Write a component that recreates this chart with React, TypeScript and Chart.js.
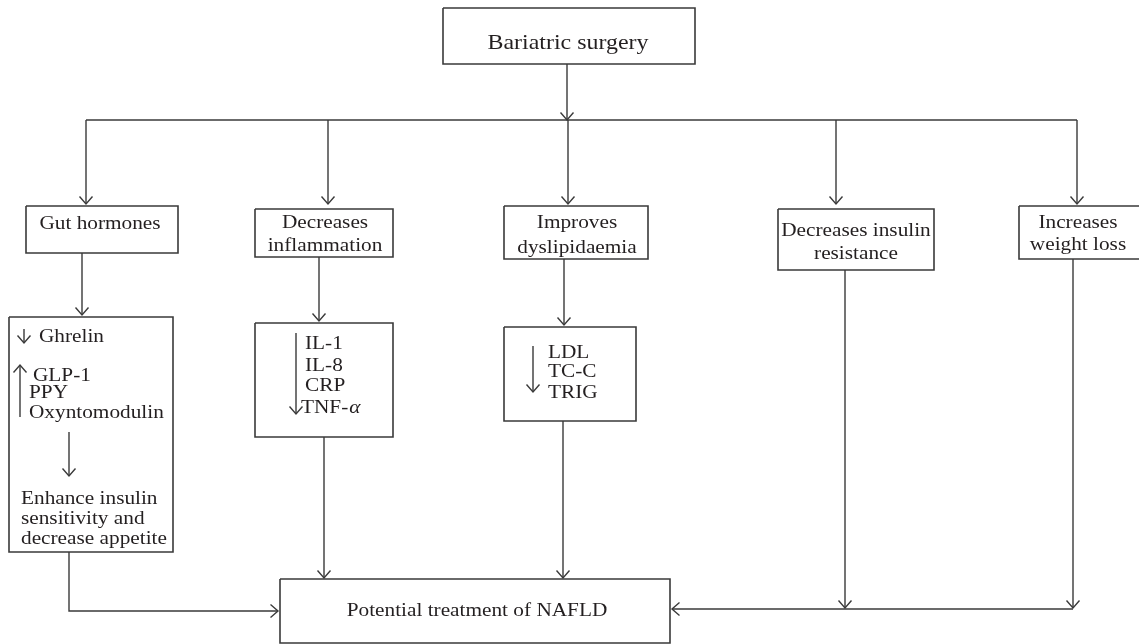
import React, { useEffect, useRef } from "react";
import { Chart, registerables } from "chart.js";

Chart.register(...registerables);

// ---- Diagram content (in the chart's own x/y scale units) ----
const boxNames = [
  "Bariatric surgery",
  "Gut hormones",
  "Decreases inflammation",
  "Improves dyslipidaemia",
  "Decreases insulin resistance",
  "Increases weight loss",
  "Ghrelin panel",
  "Interleukin panel",
  "Lipid panel",
  "Potential treatment of NAFLD",
];
// [x1, y1, x2, y2]
const boxRects: number[][] = [
  [443, 8, 695, 64],
  [26, 206, 178, 253],
  [255, 209, 393, 257],
  [504, 206, 648, 259],
  [778, 209, 934, 270],
  [1019, 206, 1150, 259],
  [9, 317, 173, 552],
  [255, 323, 393, 437],
  [504, 327, 636, 421],
  [280, 579, 670, 643],
];

// connectors: polylines; arrow at last point when flagged
const connectorPaths: number[][][] = [
  [[567, 64], [567, 120]],
  [[86, 120], [1077, 120]],
  [[86, 120], [86, 204]],
  [[328, 120], [328, 204]],
  [[568, 120], [568, 204]],
  [[836, 120], [836, 204]],
  [[1077, 120], [1077, 204]],
  [[82, 253], [82, 315]],
  [[319, 257], [319, 321]],
  [[564, 259], [564, 325]],
  [[69, 432], [69, 476]],
  [[69, 552], [69, 611], [278, 611]],
  [[324, 437], [324, 578]],
  [[563, 421], [563, 578]],
  [[845, 270], [845, 608]],
  [[1073, 259], [1073, 608]],
  [[1073, 609], [672, 609]],
  [[24, 329], [24, 343]],
  [[20, 417], [20, 365]],
  [[296, 333], [296, 414]],
  [[533, 346], [533, 392]],
];
const connectorArrows = [
  true, false, true, true, true, true, true, true, true, true, true,
  true, true, true, true, true, true, true, true, true, true,
];

// text labels
const labelTexts = [
  "Gut hormones",
  "Decreases", "inflammation",
  "Improves", "dyslipidaemia",
  "Decreases insulin", "resistance",
  "Increases", "weight loss",
  "Ghrelin", "GLP-1", "PPY", "Oxyntomodulin",
  "Enhance insulin", "sensitivity and", "decrease appetite",
  "IL-1", "IL-8", "CRP", "TNF-",
  "LDL", "TC-C", "TRIG",
  "Potential treatment of NAFLD",
];
const labelX = [
  100,
  325, 325,
  577, 577,
  856, 856,
  1078, 1078,
  39, 33, 29, 29,
  21, 21, 21,
  305, 305, 305, 301,
  548, 548, 548,
  477,
];
const labelY = [
  223,
  222, 245,
  222, 247,
  230, 253,
  222, 244,
  336, 375, 392, 412,
  498, 518, 538,
  343, 365, 385, 407,
  352, 371, 392,
  610,
];
const labelAlign = [
  "center",
  "center", "center",
  "center", "center",
  "center", "center",
  "center", "center",
  "left", "left", "left", "left",
  "left", "left", "left",
  "left", "left", "left", "left",
  "left", "left", "left",
  "center",
];
const titleText = "Bariatric surgery";
const titleX = 568;
const titleY = 42;
const greekSuffix = "α"; // appended in italics after "TNF-"

const LINE = "#3a3a3a";
const INK = "#231f20";
const FONT = "'Liberation Serif', 'Times New Roman', serif";

export default function App() {
  const ref = useRef<HTMLCanvasElement | null>(null);

  useEffect(() => {
    document.body.style.margin = "0";
    const canvas = ref.current;
    if (!canvas) return;

    const datasets: any[] = [];
    boxRects.forEach((r, i) => {
      const [x1, y1, x2, y2] = r;
      datasets.push({
        label: boxNames[i],
        data: [
          { x: x1, y: y1 }, { x: x2, y: y1 }, { x: x2, y: y2 },
          { x: x1, y: y2 }, { x: x1, y: y1 },
        ],
        showLine: true,
        borderColor: LINE,
        borderWidth: 1.6,
        pointRadius: 0,
        fill: false,
        tension: 0,
        borderJoinStyle: "miter",
      });
    });
    connectorPaths.forEach((p, i) => {
      datasets.push({
        label: "c" + i,
        data: p.map(([x, y]) => ({ x, y })),
        showLine: true,
        borderColor: LINE,
        borderWidth: 1.4,
        pointRadius: 0,
        fill: false,
        tension: 0,
      });
    });

    const drawText = (
      ctx: CanvasRenderingContext2D,
      text: string,
      px: number,
      py: number,
      align: CanvasTextAlign,
      size: number,
      sx: number,
      italic = false
    ) => {
      ctx.save();
      ctx.font = `${italic ? "italic " : ""}${size}px ${FONT}`;
      ctx.fillStyle = INK;
      ctx.textAlign = align;
      ctx.textBaseline = "alphabetic";
      ctx.translate(px, py + size * 0.33);
      ctx.scale(sx, 1);
      ctx.fillText(text, 0, 0);
      const w = ctx.measureText(text).width * sx;
      ctx.restore();
      return w;
    };

    const overlay = {
      id: "overlay",
      afterDatasetsDraw(chart: any) {
        const ctx: CanvasRenderingContext2D = chart.ctx;
        const xs = chart.scales.x;
        const ys = chart.scales.y;
        const X = (v: number) => xs.getPixelForValue(v);
        const Y = (v: number) => ys.getPixelForValue(v);

        // arrowheads
        ctx.save();
        ctx.strokeStyle = LINE;
        ctx.lineWidth = 1.4;
        connectorPaths.forEach((p, i) => {
          if (!connectorArrows[i]) return;
          const a = p[p.length - 2];
          const b = p[p.length - 1];
          const ax = X(a[0]), ay = Y(a[1]), bx = X(b[0]), by = Y(b[1]);
          const ang = Math.atan2(by - ay, bx - ax);
          const len = 7.5;
          const half = 6.5;
          const ux = Math.cos(ang), uy = Math.sin(ang);
          const nx = -uy, ny = ux;
          ctx.beginPath();
          ctx.moveTo(bx - ux * len + nx * half, by - uy * len + ny * half);
          ctx.lineTo(bx, by);
          ctx.lineTo(bx - ux * len - nx * half, by - uy * len - ny * half);
          ctx.stroke();
        });
        ctx.restore();

        // texts
        drawText(ctx, titleText, X(titleX), Y(titleY), "center", 21, 1.14);
        labelTexts.forEach((t, i) => {
          const w = drawText(
            ctx, t, X(labelX[i]), Y(labelY[i]),
            labelAlign[i] as CanvasTextAlign, 19, 1.12
          );
          if (t === "TNF-") {
            drawText(ctx, greekSuffix, X(labelX[i]) + w + 1, Y(labelY[i]), "left", 19, 1.12, true);
          }
        });
      },
    };

    const chart = new Chart(canvas, {
      type: "scatter",
      data: { datasets },
      options: {
        animation: false,
        responsive: false,
        devicePixelRatio: 1,
        layout: { padding: 0 },
        plugins: {
          legend: { display: false },
          tooltip: { enabled: false },
          title: { display: false },
        },
        events: [],
        scales: {
          x: { type: "linear", min: 0, max: 1139, display: false },
          y: { type: "linear", min: 0, max: 644, reverse: true, display: false },
        },
      } as any,
      plugins: [overlay],
    });
    return () => chart.destroy();
  }, []);

  return (
    <div style={{ width: 1139, height: 644, background: "#fff" }}>
      <canvas ref={ref} width={1139} height={644} style={{ display: "block" }} />
    </div>
  );
}
